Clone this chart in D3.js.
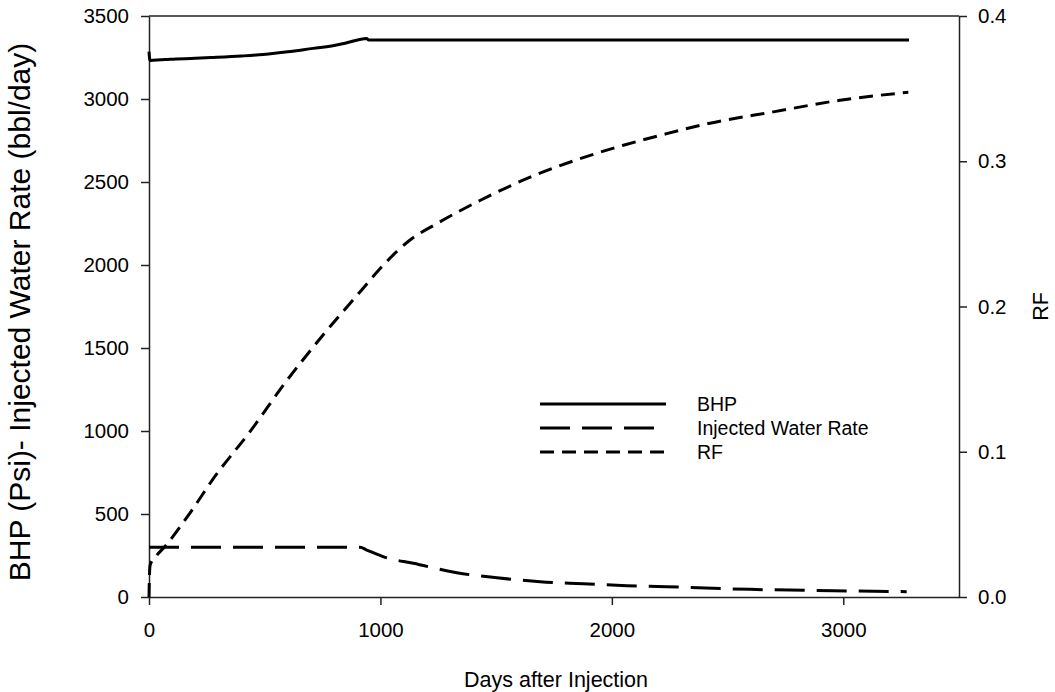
<!DOCTYPE html>
<html>
<head>
<meta charset="utf-8">
<script src="https://cdn.jsdelivr.net/npm/d3@7"></script>
<style>
  html, body { margin: 0; padding: 0; background: #fff; }
  svg { display: block; font-family: "Liberation Sans", Arial, sans-serif; }
</style>
</head>
<body>
<svg id="chart" width="1055" height="692"></svg>
<script>
// Days after injection for each series
const bhpDays = [0, 2, 5, 50, 91, 200, 277, 400, 493, 600, 709, 800, 855, 940, 950, 3284];
const bhpValues = [3285, 3250, 3232, 3236, 3240, 3245, 3250, 3259, 3268, 3284, 3305, 3322, 3339, 3365, 3355, 3355];

const waterDays = [0, 912, 941, 1020, 1142, 1330, 1503, 1690, 1877, 2064, 2237, 2597, 2957, 3274];
const waterValues = [300, 300, 283, 239, 203, 146, 116, 92, 80, 68, 62, 46, 38, 32];

const rfDays = [0, 2, 5, 30, 70, 176, 284, 442, 586, 745, 917, 1013, 1128, 1243, 1430, 1647, 1848, 2050, 2237, 2410, 2698, 2986, 3281];
const rfValues = [0, 0.015, 0.022, 0.028, 0.035, 0.0576, 0.0828, 0.115, 0.147, 0.179, 0.211, 0.2286, 0.2458, 0.257, 0.273, 0.289, 0.301, 0.311, 0.319, 0.3257, 0.334, 0.342, 0.3475];

const xTicks = [0, 1000, 2000, 3000];
const yLeftTicks = [0, 500, 1000, 1500, 2000, 2500, 3000, 3500];
const yRightTicks = [0, 0.1, 0.2, 0.3, 0.4];

const legendLabels = ["BHP", "Injected Water Rate", "RF"];

const svg = d3.select("#chart");
const margin = { left: 149, right: 1055 - 959, top: 16, bottom: 692 - 597 };
const W = 1055, H = 692;

const x = d3.scaleLinear().domain([0, 3500]).range([margin.left, W - margin.right]);
const yL = d3.scaleLinear().domain([0, 3500]).range([H - margin.bottom, margin.top]);
const yR = d3.scaleLinear().domain([0, 0.4]).range([H - margin.bottom, margin.top]);

const axisColor = "#222";
const tickFont = "20.5px";

// Frame top line
svg.append("line")
  .attr("x1", x(0)).attr("x2", x(3500))
  .attr("y1", yL(3500)).attr("y2", yL(3500))
  .attr("stroke", axisColor).attr("stroke-width", 1.5);

function styleAxis(g) {
  g.selectAll("path").attr("stroke", axisColor).attr("stroke-width", 1.5);
  g.selectAll("line").attr("stroke", axisColor).attr("stroke-width", 1.5);
  g.selectAll("text").attr("fill", "#000").style("font-size", tickFont)
    .style("font-family", "'Liberation Sans', Arial, sans-serif");
}

svg.append("g")
  .attr("transform", `translate(0,${yL(0)})`)
  .call(d3.axisBottom(x).tickValues(xTicks).tickSize(8).tickPadding(17).tickSizeOuter(0).tickFormat(d3.format("d")))
  .call(styleAxis);

svg.append("g")
  .attr("transform", `translate(${x(0)},0)`)
  .call(d3.axisLeft(yL).tickValues(yLeftTicks).tickSize(8).tickPadding(12).tickSizeOuter(0).tickFormat(d3.format("d")))
  .call(styleAxis);

svg.append("g")
  .attr("transform", `translate(${x(3500)},0)`)
  .call(d3.axisRight(yR).tickValues(yRightTicks).tickSize(8).tickPadding(11).tickSizeOuter(0).tickFormat(d3.format(".1f")))
  .call(styleAxis);

// Axis titles
svg.append("text")
  .attr("x", (x(0) + x(3500)) / 2 + 2).attr("y", 687)
  .attr("text-anchor", "middle")
  .style("font-size", "21.5px")
  .text("Days after Injection");

svg.append("text")
  .attr("transform", `translate(30,312) rotate(-90)`)
  .attr("text-anchor", "middle")
  .style("font-size", "30px")
  .text("BHP (Psi)- Injected Water Rate (bbl/day)");

svg.append("text")
  .attr("transform", `translate(1048,${(yL(0) + yL(3500)) / 2}) rotate(-90)`)
  .attr("text-anchor", "middle")
  .style("font-size", "21.5px")
  .text("RF");

// Series lines
const lineL = d3.line().x(d => x(d[0])).y(d => yL(d[1])).curve(d3.curveMonotoneX);
const lineR = d3.line().x(d => x(d[0])).y(d => yR(d[1])).curve(d3.curveMonotoneX);

const styles = [
  { dash: null },
  { dash: "30,12" },
  { dash: "14,8" }
];

svg.append("path")
  .datum(d3.zip(bhpDays, bhpValues))
  .attr("d", lineL)
  .attr("fill", "none").attr("stroke", "#000").attr("stroke-width", 3);

svg.append("path")
  .datum(d3.zip(waterDays, waterValues))
  .attr("d", lineL)
  .attr("fill", "none").attr("stroke", "#000").attr("stroke-width", 3)
  .attr("stroke-dasharray", styles[1].dash);

svg.append("path")
  .datum(d3.zip(rfDays, rfValues))
  .attr("d", lineR)
  .attr("fill", "none").attr("stroke", "#000").attr("stroke-width", 3)
  .attr("stroke-dasharray", styles[2].dash);

// Legend
const legend = svg.append("g").attr("transform", "translate(540,404)");
legendLabels.forEach((label, i) => {
  const row = legend.append("g").attr("transform", `translate(0,${i * 24})`);
  row.append("line")
    .attr("x1", 0).attr("x2", 126).attr("y1", 0).attr("y2", 0)
    .attr("stroke", "#000").attr("stroke-width", 3)
    .attr("stroke-dasharray", styles[i].dash);
  row.append("text")
    .attr("x", 157).attr("y", 7)
    .style("font-size", "19.5px")
    .text(label);
});
</script>
</body>
</html>
